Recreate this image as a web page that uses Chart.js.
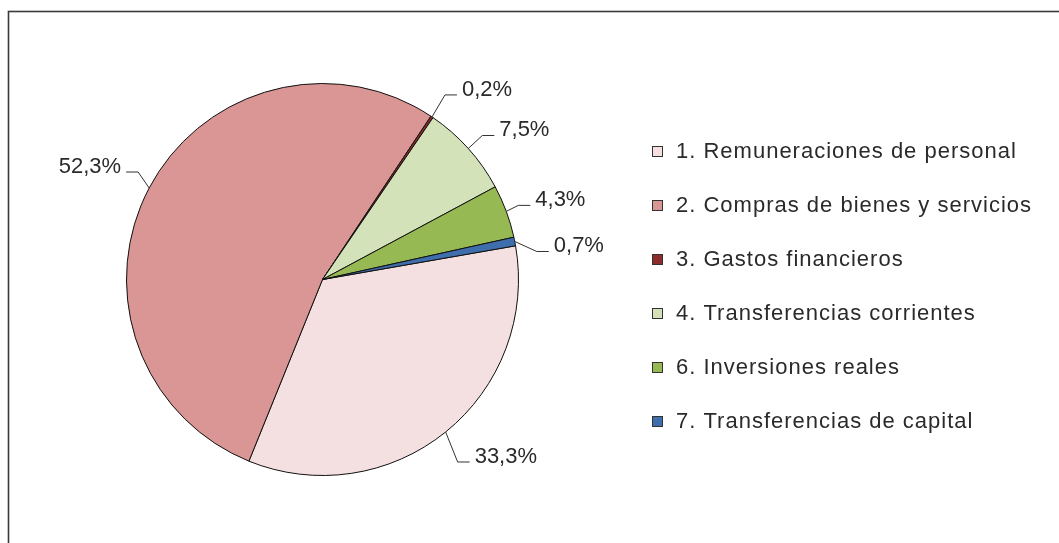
<!DOCTYPE html>
<html>
<head>
<meta charset="utf-8">
<script src="https://cdn.jsdelivr.net/npm/chart.js@4.4.1/dist/chart.umd.min.js"></script>
<style>
  html, body { margin: 0; padding: 0; background: #fff; }
  #wrap { width: 1059px; height: 543px; position: relative; }
</style>
</head>
<body>
<div id="wrap"><canvas id="gastosChart" width="1059" height="543"></canvas></div>
<script>
// Chart data
const categories = [
    "1. Remuneraciones de personal",
    "2. Compras de bienes y servicios",
    "3. Gastos financieros",
    "4. Transferencias corrientes",
    "6. Inversiones reales",
    "7. Transferencias de capital"
];
const shares = [33.3, 52.3, 0.2, 7.5, 4.3, 0.7];
const shareLabels = shares.map(v => v.toFixed(1).replace(".", ",") + "%");
const sliceColors = ["#F4E0E0", "#D99694", "#8C2D2B", "#D4E2BA", "#97B954", "#3F6EAD"];

const FONT = "22px 'Liberation Sans', Arial, sans-serif";
const TEXT = "#2a2a2a";

// leader line elbows, relative to the outer edge of each slice
const leaderElbows = [
    { dx: 12, dy: 30, side: "right" },
    { dx: -11, dy: -16, side: "left" },
    { dx: 13, dy: -22, side: "right" },
    { dx: 14, dy: -13, side: "right" },
    { dx: 12, dy: -6, side: "right" },
    { dx: 22, dy: 10, side: "right" }
];

const framePlugin = {
    id: "frame",
    beforeDraw(chart) {
        const ctx = chart.ctx;
        ctx.save();
        ctx.fillStyle = "#fff";
        ctx.fillRect(0, 0, chart.width, chart.height);
        ctx.strokeStyle = "#3a3a3a";
        ctx.lineWidth = 1.6;
        ctx.strokeRect(8.5, 11.5, chart.width + 20, chart.height + 20);
        ctx.restore();
    }
};

const leaderLabels = {
    id: "leaderLabels",
    afterDatasetsDraw(chart) {
        const ctx = chart.ctx;
        const arcs = chart.getDatasetMeta(0).data;
        ctx.save();
        ctx.font = FONT;
        ctx.fillStyle = TEXT;
        ctx.strokeStyle = "#333";
        ctx.lineWidth = 1;
        ctx.textBaseline = "alphabetic";
        arcs.forEach((arc, i) => {
            const p = arc.getProps(["x", "y", "startAngle", "endAngle", "outerRadius"], true);
            const mid = (p.startAngle + p.endAngle) / 2;
            const ex = p.x + Math.cos(mid) * p.outerRadius;
            const ey = p.y + Math.sin(mid) * p.outerRadius;
            const e = leaderElbows[i];
            const bx = ex + e.dx, by = ey + e.dy;
            const dir = e.side === "right" ? 1 : -1;
            const hx = bx + dir * 12;
            ctx.beginPath();
            ctx.moveTo(ex, ey);
            ctx.lineTo(bx, by);
            ctx.lineTo(hx, by);
            ctx.stroke();
            ctx.textAlign = e.side === "right" ? "left" : "right";
            ctx.fillText(shareLabels[i], hx + dir * 5, by + 1);
        });
        ctx.restore();
    }
};

const sideLegend = {
    id: "sideLegend",
    afterDraw(chart) {
        const ctx = chart.ctx;
        const x0 = 652, y0 = 151, step = 54;
        ctx.save();
        ctx.font = FONT;
        ctx.textAlign = "left";
        ctx.textBaseline = "middle";
        categories.forEach((name, i) => {
            const y = y0 + i * step;
            ctx.fillStyle = sliceColors[i];
            ctx.fillRect(x0 + 0.5, y - 4.5, 10, 10);
            ctx.strokeStyle = "#333";
            ctx.lineWidth = 1;
            ctx.strokeRect(x0 + 0.5, y - 4.5, 10, 10);
            ctx.fillStyle = TEXT;
            ctx.letterSpacing = "1px";
            ctx.fillText(name, 676, y + 1);
            ctx.letterSpacing = "0px";
        });
        ctx.restore();
    }
};

new Chart(document.getElementById("gastosChart"), {
    type: "pie",
    data: {
        labels: categories,
        datasets: [{
            data: shares,
            backgroundColor: sliceColors,
            borderColor: "#111",
            borderWidth: 1
        }]
    },
    options: {
        responsive: false,
        animation: false,
        rotation: 80.1,
        layout: { padding: { left: 126, top: 83, right: 540, bottom: 67 } },
        plugins: {
            legend: { display: false },
            tooltip: { enabled: false }
        }
    },
    plugins: [framePlugin, leaderLabels, sideLegend]
});
</script>
</body>
</html>
